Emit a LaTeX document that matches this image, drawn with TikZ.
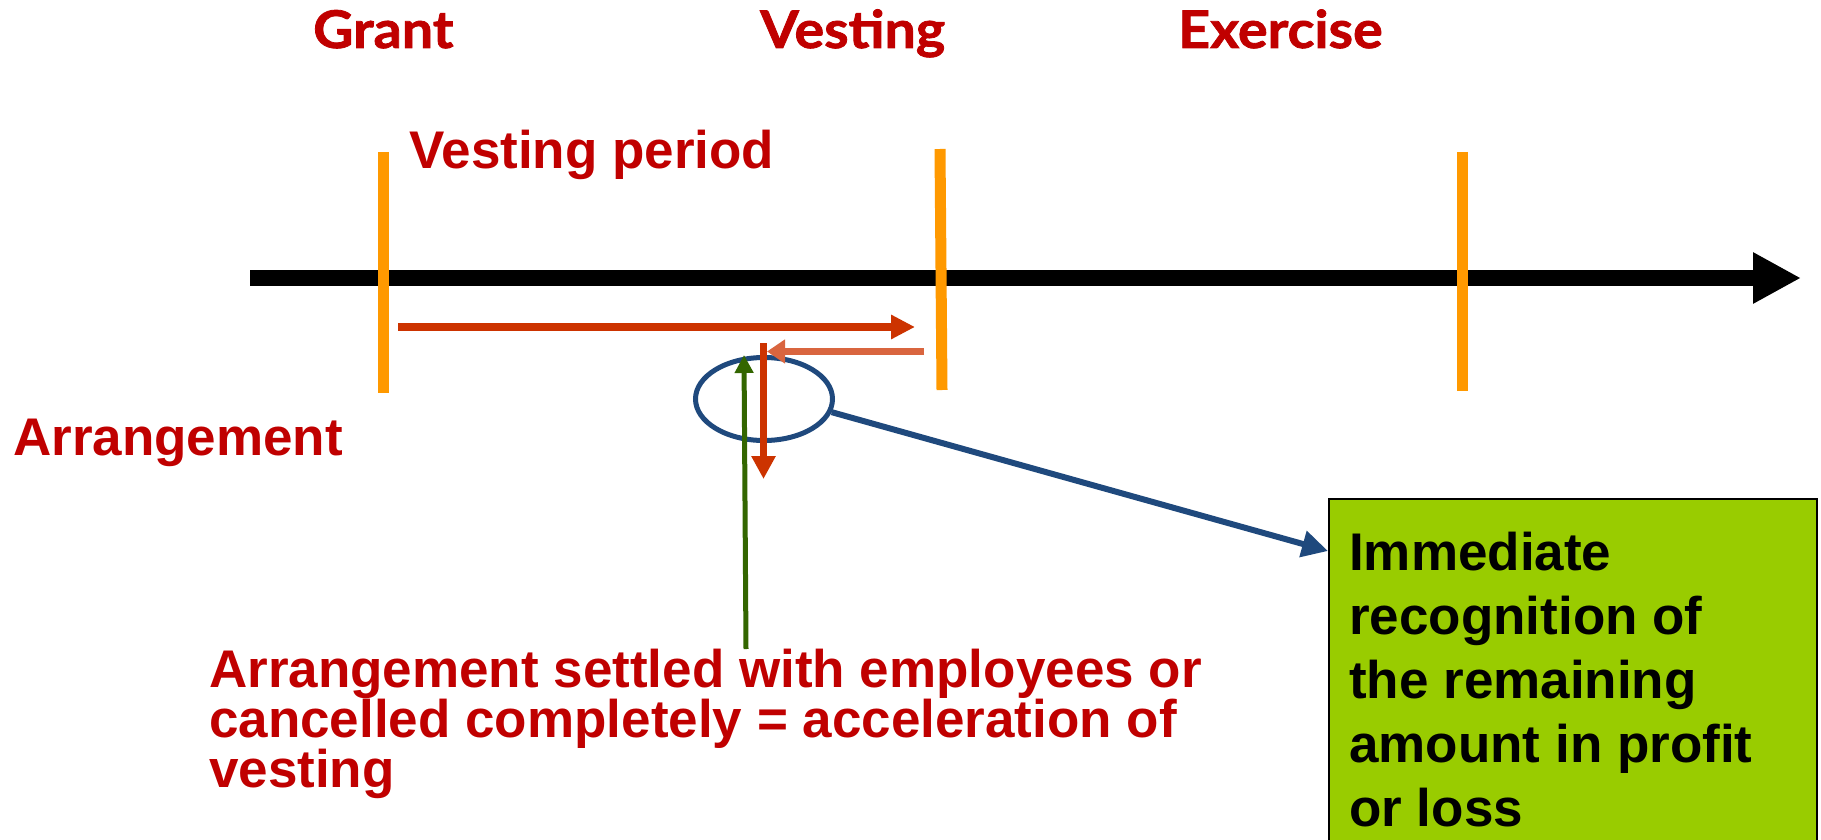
\documentclass[tikz,border=0pt]{standalone}
\usepackage{fontspec}
\setmainfont{Liberation Sans}
\newfontfamily\gillfont{Lato}[BoldFeatures={FakeBold=1.5,FakeStretch=1.07}]
\usetikzlibrary{arrows.meta,shapes.geometric}
\definecolor{txtred}{HTML}{C00000}
\definecolor{tickorange}{HTML}{FF9900}
\definecolor{arrred}{HTML}{CC3300}
\definecolor{arrlight}{HTML}{D9653F}
\definecolor{arrgreen}{HTML}{336600}
\definecolor{ellblue}{HTML}{1F497D}
\definecolor{boxgreen}{HTML}{99CC00}
\tikzset{
  toplabel/.style={anchor=base west,inner sep=0pt,text=txtred,font=\gillfont\bfseries\fontsize{52}{52}\selectfont},
  redlabel/.style={inner sep=0pt,text=txtred,font=\bfseries\fontsize{53}{50}\selectfont},
  tick/.style={draw=tickorange,line width=11pt},
}
\begin{document}
\begin{tikzpicture}[x=1pt,y=-1pt]
\useasboundingbox (0,0) rectangle (1821,840);
\clip (0,0) rectangle (1821,840);
\fill[white] (0,0) rectangle (1821,840);

% top labels
\node[toplabel] (grant) at (313,48) {Grant};
\node[toplabel] (vest) at (760,48) {Vesting};
\node[toplabel] (exer) at (1178,48) {Exercise};

% timeline
\coordinate (tl0) at (250,278);
\coordinate (tl1) at (1801,278);
\draw[line width=16pt,-{Triangle[length=48pt,width=48pt]}] (tl0) -- (tl1);

% ticks
\draw[tick] (383,152) -- (383,393);
\draw[tick] (940,149) -- (942,390);
\draw[tick] (1462,152) -- (1462,391);

% labels
\node[redlabel,anchor=base west] (vp) at (409,168) {Vesting period};
\node[redlabel,anchor=base west] (arr) at (13,455) {Arrangement};

% vesting arrow
\coordinate (va0) at (398,327);
\coordinate (va1) at (915,327);
\draw[arrred,line width=8pt,-{Triangle[length=24pt,width=23pt]}] (va0) -- (va1);

% ellipse
\node[draw=ellblue,line width=5pt,ellipse,minimum width=137pt,minimum height=83pt,inner sep=0pt] (ell) at (764,399) {};

% backward arrow
\coordinate (ba0) at (924,351.5);
\coordinate (ba1) at (767,351.5);
\draw[arrlight,line width=7pt,-{Triangle[length=18pt,width=23pt]}] (ba0) -- (ba1);

% down arrow
\coordinate (da0) at (763.5,343);
\coordinate (da1) at (763.5,479);
\draw[arrred,line width=7pt,-{Triangle[length=23pt,width=23pt]}] (da0) -- (da1);

% box
\node[draw=black,line width=1.5pt,fill=boxgreen,anchor=north west,minimum width=488pt,minimum height=400pt,inner sep=0pt] (box) at (1328,498) {};
\node[anchor=north west,inner sep=0pt,align=left,font=\bfseries\fontsize{53}{64}\selectfont] (boxtext) at (1349,532) {Immediate\\recognition of\\the remaining\\amount in profit\\or loss};

% blue connector
\draw[ellblue,line width=6pt,-{Triangle[length=26pt,width=26pt]}] (ell.-11) -- ([yshift=-53pt]box.north west);

% bottom text
\node[redlabel,anchor=north west,align=left] (settle) at (209,649) {Arrangement settled with employees or\\cancelled completely = acceleration of\\vesting};

% green arrow
\coordinate (ga0) at (746,649);
\coordinate (ga1) at (744,355);
\draw[arrgreen,line width=5pt,-{Triangle[length=18pt,width=18pt]}] (ga0) -- (ga1);
\end{tikzpicture}
\end{document}
